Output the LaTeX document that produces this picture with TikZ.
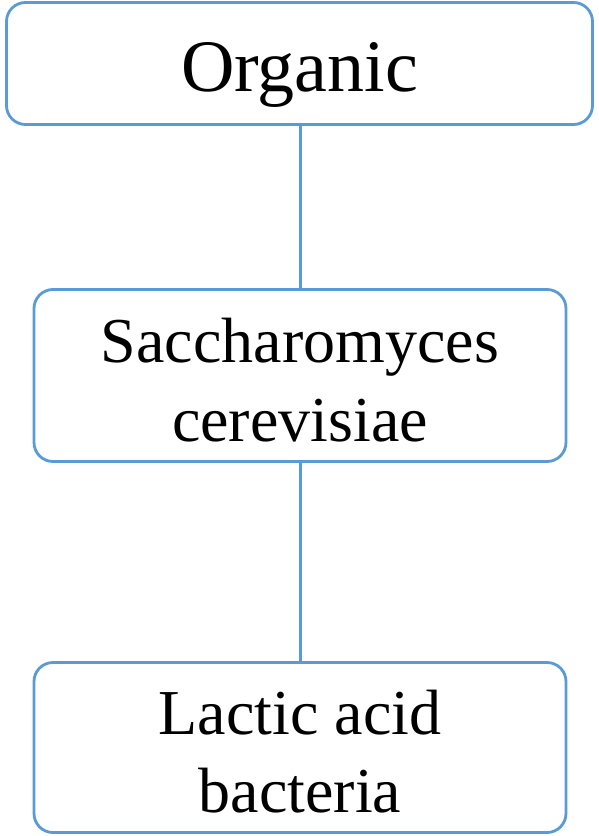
\documentclass[tikz,border=0pt]{standalone}
\usepackage{fontspec}
\setmainfont{Liberation Serif}
\definecolor{boxblue}{HTML}{5B9BD5}
\begin{document}
\begin{tikzpicture}[x=1pt,y=-1pt,
  box/.style={draw=boxblue, line width=2.8pt, rounded corners=19pt, fill=white, inner sep=0pt, align=center},
  link/.style={draw=boxblue, line width=3pt}]
\useasboundingbox (0,0) rectangle (598,836);
\node[box, minimum width=586pt, minimum height=122pt, font=\fontsize{74}{84}\selectfont] (org) at (299.5,63.5) {\raisebox{0pt}[\dimexpr\height+22pt\relax]{Organic}};
\node[box, minimum width=532pt, minimum height=172pt, font=\fontsize{64}{79}\selectfont] (sac) at (300,375.5) {\raisebox{0pt}[\dimexpr\height+9pt\relax]{Saccharomyces}\\cerevisiae};
\node[box, minimum width=532pt, minimum height=170pt, font=\fontsize{64}{78}\selectfont] (lab) at (300,747.5) {\raisebox{0pt}[\dimexpr\height+9pt\relax]{Lactic acid}\\bacteria};
\draw[link] (sac.north) -- (sac.north |- org.south);
\draw[link] (sac.south) -- (lab.north);
\end{tikzpicture}
\end{document}
